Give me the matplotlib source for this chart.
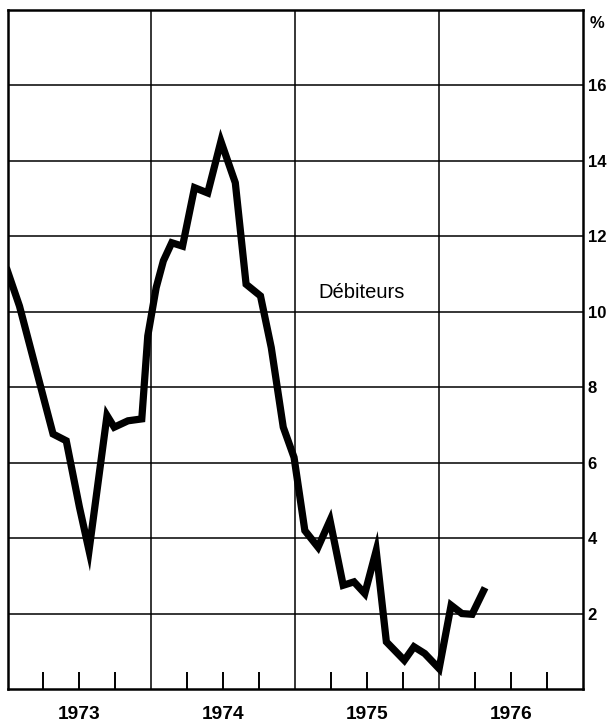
import matplotlib
matplotlib.use("Agg")
import matplotlib.pyplot as plt
import matplotlib.transforms as mtransforms

plt.rcParams['font.family'] = ['Liberation Sans', 'DejaVu Sans']

# Observation dates (months since Jan 1973) and values (%)
months = [0.0, 1.0, 3.8, 4.9, 6.0, 6.8, 8.3, 8.9, 10.05, 11.2, 11.7, 12.4, 13.0,
          13.7, 14.6, 15.6, 16.7, 17.8, 19.0, 19.9, 21.1, 22.0, 23.0, 23.9,
          24.8, 25.9, 26.9, 28.0, 28.9, 29.8, 30.75, 31.6, 33.1, 33.9, 34.8,
          36.0, 37.0, 37.9, 38.75, 39.7]
values = [11.08, 10.15, 6.76, 6.58, 4.82, 3.67, 7.25, 6.94, 7.11, 7.16, 9.36, 10.64, 11.35,
          11.83, 11.74, 13.29, 13.15, 14.52, 13.42, 10.73, 10.42, 9.05, 6.94, 6.14,
          4.2, 3.76, 4.47, 2.75, 2.84, 2.53, 3.67, 1.25, 0.76, 1.12, 0.94,
          0.54, 2.22, 2.0, 1.98, 2.6]
start_year = 1973
years = [1973, 1974, 1975, 1976]
year_labels = ['1973', '1974', '1975', '1976']
y_ticks = [2, 4, 6, 8, 10, 12, 14, 16]
y_tick_labels = ['2', '4', '6', '8', '10', '12', '14', '16']
series_label = 'Débiteurs'

t = [start_year + m / 12.0 for m in months]

fig = plt.figure(figsize=(6.08, 7.23), dpi=100)
ax = fig.add_axes([7.5/608, 1-689/723, (583-7.5)/608, (689-10)/723])
ax.set_xlim(1973, 1977)
ax.set_ylim(0, 18)

for y in y_ticks:
    ax.axhline(y, color='black', lw=1.1, zorder=1)
for yr in years[1:]:
    ax.axvline(yr, color='black', lw=1.1, zorder=1)

ax.plot(t, values, color='black', lw=5.2, solid_joinstyle='miter', zorder=3)

ax.text(1975.46, 10.5, series_label, ha='center', va='center', fontsize=14.5)

for s in ax.spines.values():
    s.set_linewidth(1.8)

# x axis: quarter ticks inside, year labels centered under each year
quarters = [y + q/4 for y in years for q in range(1, 4)]
ax.set_xticks(quarters)
ax.set_xticklabels([])
ax.tick_params(axis='x', which='major', direction='in', length=12, width=1.4)
trans = mtransforms.blended_transform_factory(ax.transData, ax.transAxes)
for yr, lab in zip(years, year_labels):
    ax.text(yr + 0.5, -0.037, lab, transform=trans, ha='center', va='center',
            fontsize=13.8, fontweight='bold')

ax.yaxis.tick_right()
ax.set_yticks(y_ticks)
ax.set_yticklabels(y_tick_labels, fontsize=12, fontweight='bold')
ax.tick_params(axis='y', which='major', length=0, pad=3.5)
ax.text(1.011, 17.65, '%', transform=ax.get_yaxis_transform(), ha='left', va='center',
        fontsize=12, fontweight='bold')

fig.savefig('out.png', dpi=100)
